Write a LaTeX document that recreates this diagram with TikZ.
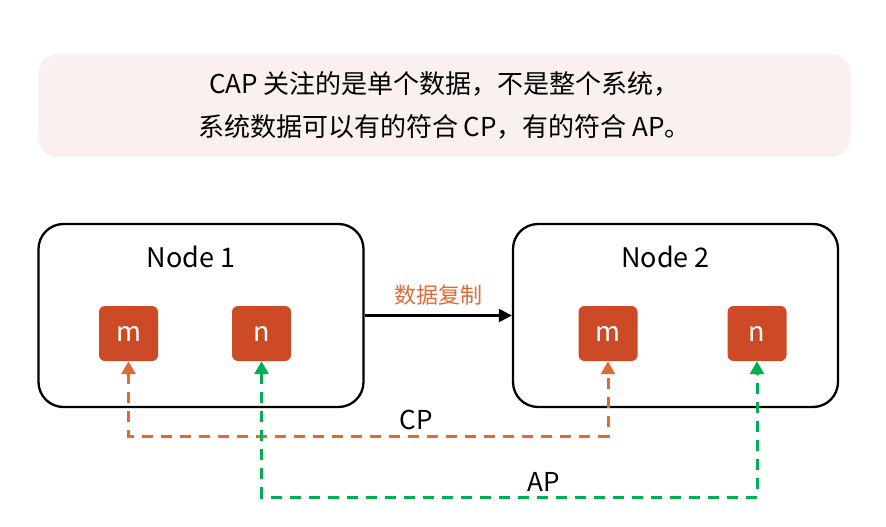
\documentclass[tikz,border=0pt]{standalone}
\usepackage{fontspec}
\setmainfont{Noto Sans CJK SC}
\usetikzlibrary{positioning,arrows.meta}
\definecolor{capRed}{RGB}{204,74,38}
\definecolor{capOrange}{RGB}{223,107,52}
\definecolor{capGreen}{RGB}{0,176,80}
\definecolor{capPink}{RGB}{250,240,239}
\tikzset{
   capBanner/.style = {
         rectangle,
         fill = capPink,
         rounded corners = 20pt,
         align = center,
         font = \fontsize{26}{43}\selectfont,
         minimum width = 813pt,
         minimum height = 103pt,
      },
   capHost/.style = {
         rectangle,
         draw,
         line width = 2.3pt,
         rounded corners = 25pt,
         minimum width = 325pt,
         minimum height = 183pt,
      },
   capTitle/.style = {
         anchor = north,
         xshift = -10pt,
         yshift = -20pt,
         font = \fontsize{27}{30}\selectfont,
      },
   capItem/.style = {
         rectangle,
         fill = capRed,
         text = white,
         rounded corners = 6pt,
         font = \fontsize{27}{30}\selectfont,
         minimum width = 59pt,
         minimum height = 55pt,
      },
   capLine/.style = {
         draw,
         line width = 2.3pt,
         -{Triangle[length=13pt,width=13pt]},
      },
   capCP/.style = {
         draw = capOrange,
         line width = 3pt,
         dash pattern = on 11pt off 8pt,
         {Triangle[length=13pt,width=14pt]}-{Triangle[length=13pt,width=14pt]},
      },
   capAP/.style = {
         capCP,
         draw = capGreen,
      },
   capLabel/.style = {
         font = \fontsize{26}{30}\selectfont,
      },
}

\begin{document}
\begin{tikzpicture}[x=1pt, y=-1pt, node distance = 474.5pt]
\useasboundingbox (0,0) rectangle (886,527);

% Place nodes
\node [capBanner] (banner) at (444.5,105.5)
	{CAP 关注的是单个数据，不是整个系统，\\系统数据可以有的符合 CP，有的符合 AP。};

\node [capHost, label={[capTitle]north:Node 1}] (node1) at (201,315.5) {};
\node [capHost, right of =node1, label={[capTitle]north:Node 2}] (node2) {};

\node [capItem] (m1) at (128.5,333.5) {m};
\node [capItem] (n1) at (261.5,333.5) {n};
\node [capItem] (m2) at (608,333.5) {m};
\node [capItem] (n2) at (757,333.5) {n};

% Place joins
\coordinate (cp-low) at (0,436);
\coordinate (ap-low) at (0,497);

% Draw edges
\path [capLine] (node1) -- node [above=6pt, capLabel, text=capOrange, font=\fontsize{22}{26}\selectfont] {数据复制} (node2);

\path [capCP] (m1.south) -- (m1.south |- cp-low)
	-- node [above=1pt, pos=0.6, capLabel] {CP} (m2.south |- cp-low) -- (m2.south);
\path [capAP] (n1.south) -- (n1.south |- ap-low)
	-- node [above=1pt, pos=0.57, capLabel] {AP} (n2.south |- ap-low) -- (n2.south);

\end{tikzpicture}
\end{document}
